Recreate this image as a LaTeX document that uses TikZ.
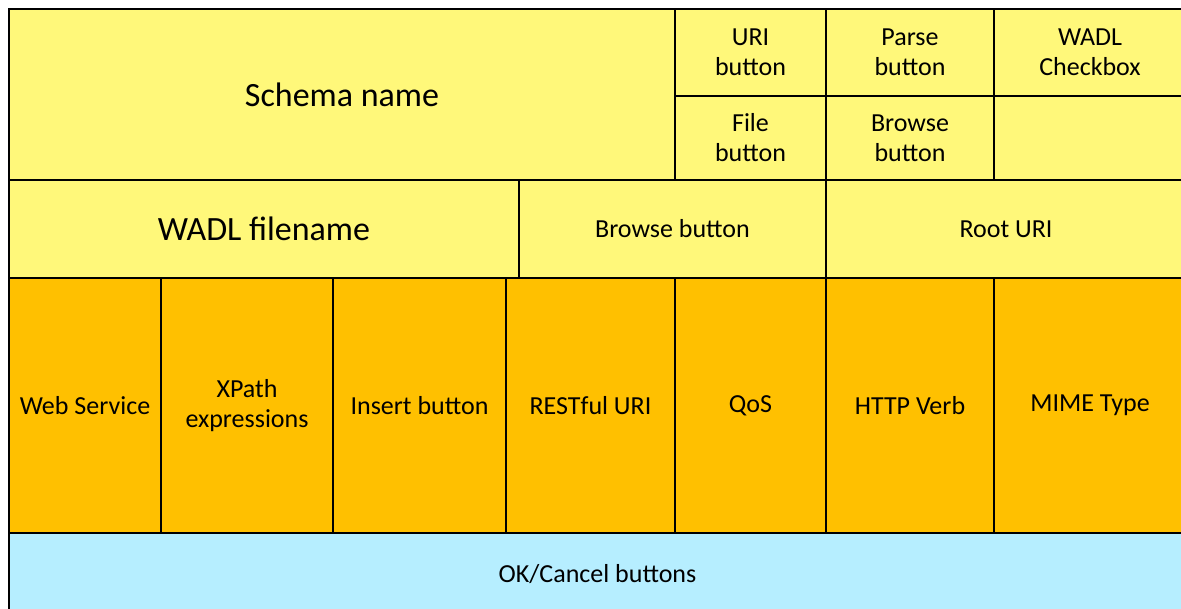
\documentclass[tikz,border=0pt]{standalone}
\usepackage{fontspec}
\setmainfont{Carlito}
\usepackage{tikz}
\usetikzlibrary{positioning}

\definecolor{paneyellow}{RGB}{255,248,122}
\definecolor{paneorange}{RGB}{255,192,0}
\definecolor{paneblue}{RGB}{182,238,255}

\begin{document}
\begin{tikzpicture}[
        x = 1pt, y = -1pt,
        cell/.style = {draw, rectangle, line width=2.8pt, anchor=north west, inner sep=0pt, outer sep=0pt, align=center, font=\fontsize{26}{30}\selectfont},
        pane/.style = {cell, fill=paneyellow},
        bigpane/.style = {pane, font=\fontsize{34}{38}\selectfont},
        field/.style = {cell, fill=paneorange},
        bar/.style = {cell, fill=paneblue}
      ]

      \useasboundingbox (0,0) rectangle (1181,609);
      \clip (0,0) rectangle (1181,609);

      % ================= SCHEMA ROW =================
      \node[bigpane, minimum width=666pt, minimum height=171pt] (schema) at (9,9) {Schema name};
      \node[pane, minimum width=151pt, minimum height=87pt] (uri) at (schema.north east) {URI\\button};
      \node[pane, minimum width=168pt, minimum height=87pt] (parse) at (uri.north east) {Parse\\button};
      \node[pane, minimum width=192pt, minimum height=87pt] (wadlcheck) at (parse.north east) {WADL\\Checkbox};
      \node[pane, minimum width=151pt, minimum height=84pt] (file) at (uri.south west) {File\\button};
      \node[pane, minimum width=168pt, minimum height=84pt] (browse) at (file.north east) {Browse\\button};
      \node[pane, minimum width=192pt, minimum height=84pt] (empty) at (browse.north east) {};

      % ================= WADL ROW =================
      \node[bigpane, minimum width=510pt, minimum height=98pt] (wadlfile) at (schema.south west) {WADL filename};
      \node[pane, minimum width=307pt, minimum height=98pt] (browsewadl) at (wadlfile.north east) {Browse button};
      \node[pane, minimum width=360pt, minimum height=98pt] (rooturi) at (browsewadl.north east) {Root URI};

      % ================= FIELD ROW =================
      \node[field, minimum width=152pt, minimum height=255pt] (websvc) at (wadlfile.south west) {Web Service};
      \node[field, minimum width=172pt, minimum height=255pt] (xpath) at (websvc.north east) {XPath\\expressions};
      \node[field, minimum width=173pt, minimum height=255pt] (insert) at (xpath.north east) {Insert button};
      \node[field, minimum width=169pt, minimum height=255pt] (resturi) at (insert.north east) {RESTful URI};
      \node[field, minimum width=151pt, minimum height=255pt] (qos) at (resturi.north east) {QoS};
      \node[field, minimum width=168pt, minimum height=255pt] (verb) at (qos.north east) {HTTP Verb};
      \node[field, minimum width=192pt, minimum height=255pt] (mime) at (verb.north east) {MIME Type};

      % ================= BUTTON ROW =================
      \node[bar, minimum width=1177pt, minimum height=82pt] (okcancel) at (websvc.south west) {OK/Cancel buttons};

    \end{tikzpicture}
\end{document}
